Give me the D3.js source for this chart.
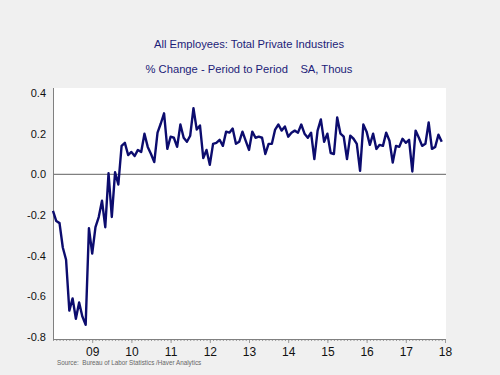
<!DOCTYPE html>
<html>
<head>
<meta charset="utf-8">
<script src="https://cdn.jsdelivr.net/npm/d3@7"></script>
<style>
  body { margin: 0; background: #f0f0f0; }
  svg { display: block; font-family: Arial, "Liberation Sans", sans-serif; }
</style>
</head>
<body>
<div id="chart"></div>
<script>
// monthly % change, Jan 2008 .. Dec 2017
const values = [
  -0.18, -0.23, -0.24, -0.36, -0.42, -0.67, -0.61, -0.71, -0.63, -0.70, -0.74, -0.265,
  -0.39, -0.26, -0.21, -0.13, -0.26, 0.005, -0.21, 0.01, -0.05, 0.14, 0.155, 0.095,
  0.11, 0.09, 0.12, 0.11, 0.20, 0.135, 0.10, 0.06, 0.205, 0.25, 0.30, 0.125,
  0.185, 0.18, 0.135, 0.245, 0.18, 0.16, 0.19, 0.325, 0.22, 0.24, 0.08, 0.12,
  0.047, 0.15, 0.155, 0.17, 0.14, 0.21, 0.205, 0.225, 0.15, 0.16, 0.21, 0.165,
  0.12, 0.21, 0.18, 0.185, 0.18, 0.10, 0.15, 0.15, 0.22, 0.245, 0.215, 0.235,
  0.185, 0.205, 0.215, 0.205, 0.245, 0.20, 0.18, 0.205, 0.075, 0.215, 0.27, 0.16,
  0.20, 0.105, 0.10, 0.28, 0.20, 0.185, 0.075, 0.19, 0.175, 0.15, 0.017, 0.245,
  0.21, 0.145, 0.20, 0.125, 0.145, 0.14, 0.205, 0.165, 0.058, 0.14, 0.135, 0.175,
  0.155, 0.17, 0.014, 0.215, 0.18, 0.14, 0.15, 0.255, 0.125, 0.135, 0.195, 0.16
];
const yearLabels = ["09", "10", "11", "12", "13", "14", "15", "16", "17", "18"];
const yTicks = [-0.8, -0.6, -0.4, -0.2, 0.0, 0.2, 0.4];

const width = 500, height = 375;
const plotLeft = 53, plotRight = 446, plotTop = 88, plotBottom = 339;

const svg = d3.select("#chart").append("svg")
  .attr("width", width).attr("height", height);

svg.append("rect").attr("width", width).attr("height", height).attr("fill", "#f0f0f0");

// months since Jan 2008
const x = d3.scaleLinear().domain([0, 120]).range([plotLeft, 445]);
const y = d3.scaleLinear().domain([-0.8, 0.4]).range([337, 93]);

svg.append("rect")
  .attr("x", plotLeft).attr("y", plotTop)
  .attr("width", plotRight - plotLeft).attr("height", plotBottom - plotTop)
  .attr("fill", "#ffffff");

// titles
svg.append("text")
  .attr("x", 249).attr("y", 48)
  .attr("text-anchor", "middle")
  .attr("font-size", 11.2)
  .attr("fill", "#1c1c78")
  .text("All Employees: Total Private Industries");

svg.append("text")
  .attr("x", 249).attr("y", 73)
  .attr("text-anchor", "middle")
  .attr("font-size", 11.2)
  .attr("fill", "#1c1c78")
  .style("white-space", "pre")
  .text("% Change - Period to Period    SA, Thous");

// zero line
svg.append("line")
  .attr("x1", plotLeft).attr("x2", plotRight)
  .attr("y1", y(0)).attr("y2", y(0))
  .attr("stroke", "#808080").attr("stroke-width", 1.2);

// y axis
const yAxis = svg.append("g")
  .attr("transform", `translate(${plotLeft},0)`)
  .call(d3.axisLeft(y).tickValues(yTicks).tickSize(0).tickPadding(7)
    .tickFormat(d => d.toFixed(1)));
yAxis.select(".domain").remove();
yAxis.selectAll("text").attr("font-size", 11).attr("fill", "#111");
yAxis.attr("font-family", null);
svg.append("line")
  .attr("x1", plotLeft + 0.5).attr("x2", plotLeft + 0.5)
  .attr("y1", plotTop).attr("y2", plotBottom)
  .attr("stroke", "#808080").attr("stroke-width", 1);

// x axis: monthly minor ticks, yearly major ticks with labels
const minor = svg.append("g")
  .attr("transform", `translate(0,${plotBottom})`)
  .call(d3.axisBottom(x).tickValues(d3.range(0, 121)).tickSize(2).tickFormat(""));
minor.select(".domain").remove();
minor.selectAll("line").attr("stroke", "#999");

const major = svg.append("g")
  .attr("transform", `translate(0,${plotBottom})`)
  .call(d3.axisBottom(x).tickValues(yearLabels.map((d, i) => (i + 1) * 12))
    .tickSize(4).tickPadding(4).tickFormat((d, i) => yearLabels[i]));
major.select(".domain").remove();
major.selectAll("line").attr("stroke", "#999");
major.selectAll("text").attr("font-size", 12).attr("fill", "#111");
major.attr("font-family", null);

svg.append("line")
  .attr("x1", plotLeft).attr("x2", plotRight)
  .attr("y1", plotBottom + 0.5).attr("y2", plotBottom + 0.5)
  .attr("stroke", "#808080").attr("stroke-width", 1);

// series
const line = d3.line().x((d, i) => x(i)).y(d => y(d));
svg.append("path")
  .datum(values)
  .attr("d", line)
  .attr("fill", "none")
  .attr("stroke", "#0c0c6e")
  .attr("stroke-width", 2.4)
  .attr("stroke-linejoin", "round");

// source note
svg.append("text")
  .attr("x", 57).attr("y", 364.5)
  .attr("font-size", 6.3)
  .attr("fill", "#666")
  .style("white-space", "pre")
  .text("Source:  Bureau of Labor Statistics /Haver Analytics");
</script>
</body>
</html>
